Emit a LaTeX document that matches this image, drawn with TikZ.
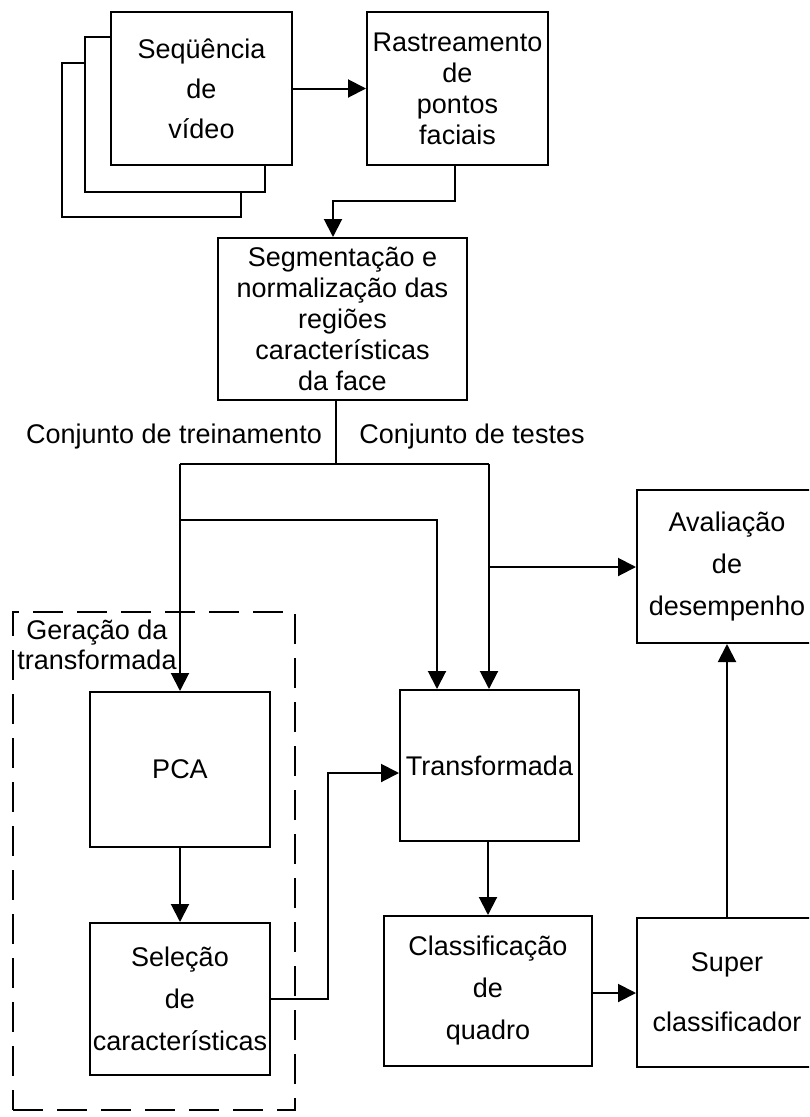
\documentclass[tikz,border=0pt]{standalone}
\usepackage{fontspec}
\setmainfont{Liberation Sans}
\usetikzlibrary{arrows.meta}
\begin{document}
\begin{tikzpicture}[x=1pt,y=-1pt,
  line width=2pt,
  box/.style={draw, fill=white, inner sep=0pt, align=center,
    font=\fontsize{27}{31}\selectfont},
  wide/.style={font=\fontsize{27}{42}\selectfont},
  lbl/.style={inner sep=0pt, align=center, font=\fontsize{27}{30}\selectfont},
  arr/.style={-{Triangle[length=18pt,width=18pt]}}]
\useasboundingbox (0,0) rectangle (809,1117);
\clip (0,0) rectangle (809,1117);

% stacked frames of the video sequence
\node[box, minimum width=179pt, minimum height=154pt] (back2) at (151.5,140) {};
\node[box, minimum width=180pt, minimum height=155pt] (back1) at (175,114.5) {};
\node[box, font=\fontsize{27}{40}\selectfont, minimum width=181pt, minimum height=153pt] (video) at (201.5,88.5)
  {Seqüência\\de\\vídeo};
\node[box, minimum width=181pt, minimum height=153pt] (rast) at (457.5,88.5)
  {Rastreamento\\de\\pontos\\faciais};
\node[box, minimum width=249pt, minimum height=162pt] (seg) at (342.5,319)
  {Segmentação e\\normalização das\\regiões\\características\\da face};
\node[box, wide, minimum width=180pt, minimum height=153pt] (aval) at (727,566.5)
  {Avaliação\\de\\desempenho};

% dashed group around the transform generation
\node[draw, dashed, dash pattern=on 30pt off 14pt, inner sep=0pt,
  minimum width=282pt, minimum height=498pt] (gen) at (154,861) {};
\node[lbl] (genlbl) at (97,645) {Geração da\\transformada};

\node[box, minimum width=180pt, minimum height=155pt] (pca) at (180,769.5) {PCA};
\node[box, wide, minimum width=180pt, minimum height=152pt] (sel) at (180,999)
  {Seleção\\de\\características};
\node[box, minimum width=179pt, minimum height=151pt] (transf) at (489.5,765.5) {Transformada};
\node[box, wide, minimum width=208pt, minimum height=150pt] (class) at (488,991)
  {Classificação\\de\\quadro};
\node[box, font=\fontsize{27}{60}\selectfont, minimum width=180pt, minimum height=149pt] (super) at (727,992.5)
  {Super\\classificador};

% set labels
\node[lbl] (train) at (174,437) {Conjunto de treinamento};
\node[lbl] (test) at (472,437) {Conjunto de testes};

% junction points
\coordinate (split) at (336,464);
\coordinate (trainL) at (180,464);
\coordinate (testR) at (489,464);
\coordinate (trainB) at (180,520);
\coordinate (testB) at (489,567);

% connectors
\draw[arr] (video.east) -- (rast.west);
\draw[arr] ([xshift=-3pt]rast.south) -- ++(0,35) -| ([xshift=-9.5pt]seg.north);
\draw ([xshift=-6.5pt]seg.south) -- (split);
\draw (trainL) -- (testR);
\draw[arr] (trainL) -- (pca.north);
\draw[arr] (trainB) -| ([xshift=-52.5pt]transf.north);
\draw[arr] (testR) -- (testR |- transf.north);
\draw[arr] (testB) -- (testB -| aval.west);
\draw[arr] (pca.south) -- (sel.north);
\draw[arr] (sel.east) -- ++(57,0) |- ([yshift=-7.5pt]transf.west);
\draw[arr] (class.north |- transf.south) -- (class.north);
\draw[arr] ([yshift=-2pt]class.east) -- ([yshift=-2pt]class.east -| super.west);
\draw[arr] (super.north) -- (aval.south);
\end{tikzpicture}
\end{document}
